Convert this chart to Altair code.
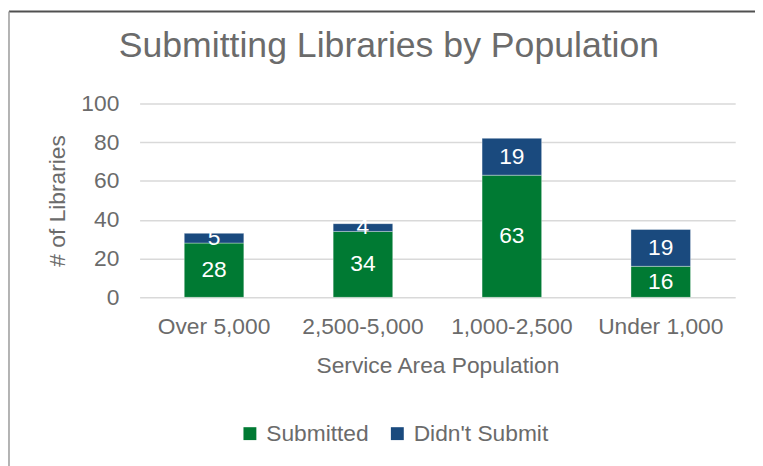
import altair as alt
import pandas as pd

categories = ["Over 5,000", "2,500-5,000", "1,000-2,500", "Under 1,000"]
submitted = [28, 34, 63, 16]
didnt_submit = [5, 4, 19, 19]
series = ["Submitted", "Didn't Submit"]
colors = ["#007A33", "#1A4A7E"]
y_ticks = [0, 20, 40, 60, 80, 100]

rows = []
for c, s, d in zip(categories, submitted, didnt_submit):
    rows.append({"Population": c, "Status": series[0], "Count": s, "ord": 0})
    rows.append({"Population": c, "Status": series[1], "Count": d, "ord": 1})
df = pd.DataFrame(rows)

FONT = "Liberation Sans"
GRAY = "#6b6b6b"

base = alt.Chart(df).transform_stack(
    stack="Count", groupby=["Population"], sort=[alt.SortField("ord")], as_=["y0", "y1"]
).transform_calculate(mid="(datum.y0 + datum.y1) / 2")

xaxis = alt.Axis(title="Service Area Population", labelAngle=0, ticks=False,
                 domain=False, labelPadding=19, titlePadding=16,
                 labelFontSize=23, titleFontSize=23,
                 labelColor=GRAY, titleColor=GRAY, labelFont=FONT,
                 titleFont=FONT, titleFontWeight="normal")
yaxis = alt.Axis(title="# of Libraries", values=y_ticks, labelOverlap=False,
                 ticks=False, domain=False, labelPadding=21, titlePadding=12,
                 gridColor="#d9d9d9", gridWidth=1.5,
                 labelFontSize=23, titleFontSize=23, labelColor=GRAY,
                 titleColor=GRAY, labelFont=FONT, titleFont=FONT,
                 titleFontWeight="normal")
xscale = alt.Scale(paddingInner=0.6, paddingOuter=0.3)
yscale = alt.Scale(domain=[0, 100])

bars = base.mark_bar(stroke="white", strokeWidth=0.6, strokeOpacity=0.6).encode(
    x=alt.X("Population:N", sort=categories, scale=xscale, axis=xaxis),
    y=alt.Y("y0:Q", scale=yscale, axis=yaxis),
    y2="y1:Q",
    color=alt.Color("Status:N", scale=alt.Scale(domain=series, range=colors),
                    legend=alt.Legend(title=None, orient="none", direction="horizontal",
                                      legendX=100, legendY=322, symbolType="square",
                                      symbolSize=170, symbolStrokeWidth=0,
                                      labelFontSize=23, labelFont=FONT, labelColor=GRAY,
                                      labelOffset=5, columnPadding=17, padding=0)),
)

labels = base.mark_text(color="white", fontSize=23, font=FONT, baseline="middle").encode(
    x=alt.X("Population:N", sort=categories, scale=xscale, axis=xaxis),
    y=alt.Y("mid:Q", scale=yscale, axis=yaxis),
    text=alt.Text("Count:Q"),
)

one = pd.DataFrame({"a": [0]})
top_line = alt.Chart(one).mark_rule(color="#505050", strokeWidth=2, clip=False).encode(
    x=alt.value(-132), x2=alt.value(700), y=alt.value(-93))
left_line = alt.Chart(one).mark_rule(color="#9a9a9a", strokeWidth=1.5, clip=False).encode(
    x=alt.value(-132), y=alt.value(-93), y2=alt.value(380))

chart = alt.layer(bars, labels, top_line, left_line).properties(
    width=602, height=196,
    title=alt.TitleParams("Submitting Libraries by Population", fontSize=36, font=FONT,
                          color=GRAY, fontWeight="normal", anchor="middle",
                          dx=-49, offset=-55),
    padding={"left": 133, "top": 94, "right": 20, "bottom": 168},
    autosize=alt.AutoSizeParams(type="none"),
).configure_view(stroke=None)

chart.save("out.html", embed_options={"renderer": "svg", "actions": False})
